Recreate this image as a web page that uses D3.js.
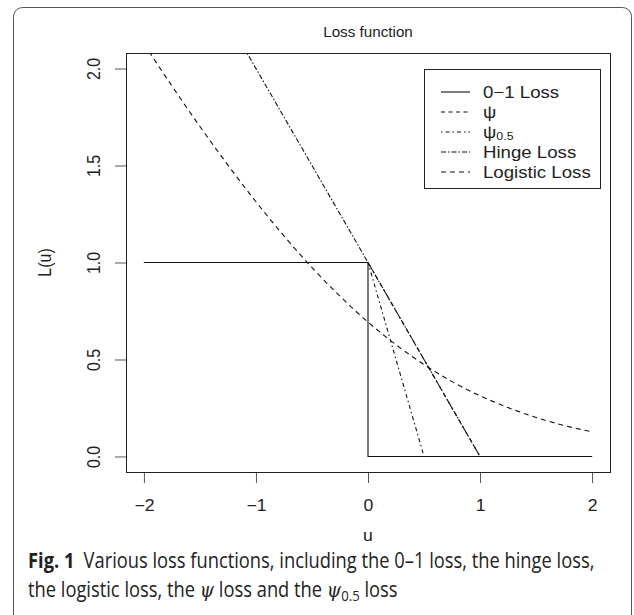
<!DOCTYPE html>
<html>
<head>
    <meta charset="utf-8">
    <script src="https://d3js.org/d3.v7.min.js"></script>
    <style>
        body { margin: 0; background: #fff; }
        .tick text { font-family: "Liberation Sans", Arial, sans-serif; font-size: 16px; fill: #222; }
        .tick line { stroke: #555; }
        .series { fill: none; stroke: #111; stroke-width: 1.1px; }
    </style>
</head>
<body>
    <div id="chart"></div>

    <script>
        // Tick values
        const xTicks = [-2, -1, 0, 1, 2];
        const yTicks = [0, 0.5, 1, 1.5, 2];
        const yTickLabels = ["0.0", "0.5", "1.0", "1.5", "2.0"];

        // Series (u, L(u))
        const zeroOneU = [-2, 0, 0, 2];
        const zeroOneL = [1, 1, 0, 0];
        const psiU = [-2, 0, 1, 2];
        const psiL = [1, 1, 0, 0];
        const psi05U = [-2, 0, 0.5, 2];
        const psi05L = [1, 1, 0, 0];
        const hingeU = [-2, 1, 2];
        const hingeL = [3, 0, 0];
        const logisticU = [-2, -1.75, -1.5, -1.25, -1, -0.75, -0.5, -0.25, 0, 0.25, 0.5, 0.75, 1, 1.25, 1.5, 1.75, 2];
        const logisticL = [2.127, 1.910, 1.701, 1.502, 1.313, 1.137, 0.974, 0.826, 0.693, 0.576, 0.474, 0.386, 0.313, 0.252, 0.201, 0.160, 0.127];

        const legendNames = ["0\u22121 Loss", "\u03C8", "\u03C80.5", "Hinge Loss", "Logistic Loss"];

        const series = [
            { u: zeroOneU, l: zeroOneL, dash: null },
            { u: psiU, l: psiL, dash: "4,3.5" },
            { u: psi05U, l: psi05L, dash: "1.5,3,4,3" },
            { u: hingeU, l: hingeL, dash: "5,2,1.5,2" },
            { u: logisticU, l: logisticL, dash: "5,4" }
        ];

        const W = 634, H = 615;
        const plot = { left: 126, right: 610, top: 53, bottom: 472 };

        const svg = d3.select("#chart").append("svg")
            .attr("width", W)
            .attr("height", H);

        // outer figure frame (runs off the bottom)
        svg.append("rect")
            .attr("x", 13.5).attr("y", 7.5)
            .attr("width", 618).attr("height", 660)
            .attr("rx", 9)
            .attr("fill", "none")
            .attr("stroke", "#555");

        const x = d3.scaleLinear().domain([-2.16, 2.16]).range([plot.left, plot.right]);
        const y = d3.scaleLinear().domain([-0.08, 2.08]).range([plot.bottom, plot.top]);

        svg.append("clipPath").attr("id", "clip")
            .append("rect")
            .attr("x", plot.left).attr("y", plot.top)
            .attr("width", plot.right - plot.left)
            .attr("height", plot.bottom - plot.top);

        const line = d3.line()
            .x(d => x(d[0]))
            .y(d => y(d[1]));

        svg.append("g").attr("clip-path", "url(#clip)")
            .selectAll("path")
            .data(series)
            .join("path")
            .attr("class", "series")
            .attr("stroke-dasharray", d => d.dash)
            .attr("d", d => {
                const pts = d.u.map((u, i) => [u, d.l[i]]);
                return d.u.length > 5 ? line.curve(d3.curveMonotoneX)(pts) : line.curve(d3.curveLinear)(pts);
            });

        // axes
        const xAxis = svg.append("g")
            .attr("transform", `translate(0,${plot.bottom})`)
            .call(d3.axisBottom(x).tickValues(xTicks).tickSize(11).tickSizeOuter(0)
                .tickPadding(17).tickFormat(d => String(d).replace("-", "\u2212")));
        xAxis.select(".domain").remove();
        xAxis.selectAll(".tick text")
            .attr("transform", "scale(1.1,1)");

        const yAxis = svg.append("g")
            .attr("transform", `translate(${plot.left},0)`)
            .call(d3.axisLeft(y).tickValues(yTicks).tickSize(11).tickSizeOuter(0)
                .tickFormat((d, i) => yTickLabels[i]));
        yAxis.select(".domain").remove();
        yAxis.selectAll(".tick text")
            .attr("x", null).attr("dy", null)
            .attr("text-anchor", "middle")
            .attr("transform", "translate(-26,0) scale(1.1,1) rotate(-90)");

        svg.append("rect")
            .attr("x", plot.left + 0.5).attr("y", plot.top + 0.5)
            .attr("width", plot.right - plot.left).attr("height", plot.bottom - plot.top)
            .attr("fill", "none").attr("stroke", "#222");

        // titles
        const sans = "'Liberation Sans', Arial, sans-serif";
        svg.append("text")
            .attr("transform", `translate(${(plot.left + plot.right) / 2},37) scale(1.05,1)`)
            .attr("text-anchor", "middle")
            .style("font-family", sans).style("font-size", "14.5px").attr("fill", "#222")
            .text("Loss function");

        svg.append("text")
            .attr("transform", `translate(${(plot.left + plot.right) / 2},541) scale(1.1,1)`)
            .attr("text-anchor", "middle")
            .style("font-family", sans).style("font-size", "16px").attr("fill", "#222")
            .text("u");

        svg.append("text")
            .attr("transform", `translate(51,${(plot.top + plot.bottom) / 2}) scale(1.1,1) rotate(-90)`)
            .attr("text-anchor", "middle")
            .style("font-family", sans).style("font-size", "16px").attr("fill", "#222")
            .text("L(u)");

        // legend
        const lg = svg.append("g");
        lg.append("rect")
            .attr("x", 424.5).attr("y", 69.5)
            .attr("width", 176).attr("height", 119)
            .attr("fill", "#fff").attr("stroke", "#222");

        const items = lg.selectAll("g.item")
            .data(series)
            .join("g")
            .attr("class", "item")
            .attr("transform", (d, i) => `translate(0,${92 + i * 20})`);

        items.append("line")
            .attr("x1", 441).attr("x2", 470)
            .attr("stroke", "#111").attr("stroke-width", 1.1)
            .attr("stroke-dasharray", d => d.dash);

        items.append("text")
            .attr("transform", "translate(483,0) scale(1.13,1)")
            .attr("dy", "0.36em")
            .style("font-family", sans).style("font-size", "16.5px").attr("fill", "#222")
            .each(function (d, i) {
                const t = d3.select(this);
                const name = legendNames[i];
                if (name === "\u03C80.5") {
                    t.append("tspan").text("\u03C8");
                    t.append("tspan").attr("dy", "2").style("font-size", "11px").text("0.5");
                } else {
                    t.text(name);
                }
            });

        // caption
        const cap = svg.append("g").attr("transform", "translate(28,0)");
        const capFont = "'Open Sans', 'Noto Sans', sans-serif";
        const l1 = cap.append("text").attr("y", 568)
            .style("font-family", capFont).style("font-size", "21px").attr("fill", "#222");
        l1.append("tspan").style("font-weight", "bold").text("Fig. 1");
        l1.append("tspan").text("\u2002Various loss functions, including the 0\u20131 loss, the hinge loss,");
        const l2 = cap.append("text").attr("y", 597)
            .style("font-family", capFont).style("font-size", "21px").attr("fill", "#222");
        l2.append("tspan").text("the logistic loss, the ");
        l2.append("tspan").style("font-style", "italic").style("font-family", "'DejaVu Serif', serif").text("\u03C8");
        l2.append("tspan").text(" loss and the ");
        l2.append("tspan").style("font-style", "italic").style("font-family", "'DejaVu Serif', serif").text("\u03C8");
        l2.append("tspan").attr("dy", "4").style("font-size", "15px").text("0.5");
        l2.append("tspan").attr("dy", "-4").text(" loss");

        // fit the condensed caption face to the measured line width
        const sx = 567 / l1.node().getComputedTextLength();
        cap.attr("transform", `translate(28,0) scale(${sx},1)`);
    </script>
</body>
</html>
